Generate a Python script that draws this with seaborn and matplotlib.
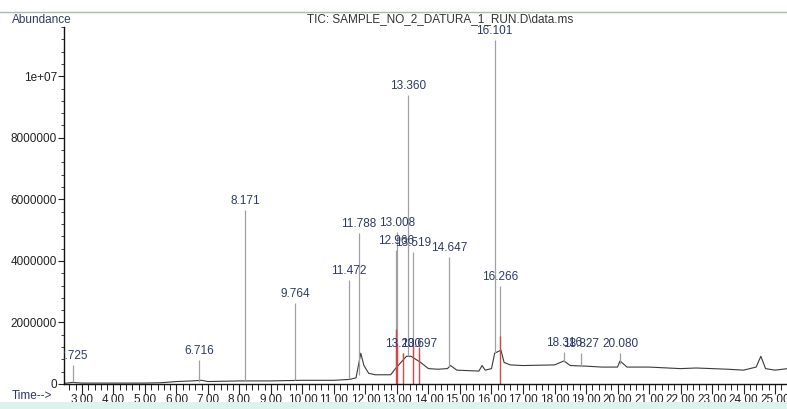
import numpy as np
import pandas as pd
import seaborn as sns
import matplotlib.pyplot as plt
from matplotlib.ticker import MultipleLocator

# ---------------- data ----------------
# baseline trace (time in min, abundance)
trace_t = [2.43, 2.70, 3.00, 4.00, 5.00, 5.50, 6.00, 6.50, 6.80, 7.00, 8.00, 9.00,
           10.00, 11.00, 11.50, 11.70, 11.85, 11.95, 12.10, 12.30, 12.80, 12.95,
           13.30, 13.45, 13.75, 14.00, 14.30, 14.60, 14.70, 14.90, 15.60, 15.70,
           15.80, 16.00, 16.10, 16.30, 16.40, 16.60, 17.00, 18.00, 18.30, 18.50,
           19.00, 19.50, 20.00, 20.08, 20.30, 21.00, 22.00, 22.50, 23.00, 23.50,
           24.00, 24.40, 24.55, 24.70, 25.00, 25.40]
trace_y = [20000, 50000, 30000, 30000, 30000, 40000, 80000, 100000, 120000, 80000,
           100000, 100000, 120000, 120000, 150000, 200000, 1000000, 600000, 350000,
           300000, 300000, 500000, 900000, 900000, 700000, 500000, 480000, 500000,
           600000, 450000, 420000, 600000, 450000, 500000, 1000000, 1100000, 700000,
           620000, 600000, 620000, 750000, 600000, 580000, 550000, 550000, 750000,
           550000, 550000, 500000, 520000, 500000, 480000, 450000, 550000, 900000,
           500000, 450000, 500000]

# labelled peaks
peak_t = [2.725, 6.716, 8.171, 9.764, 11.472, 11.788, 12.966, 13.008, 13.200,
          13.360, 13.519, 13.697, 14.647, 16.101, 16.266, 18.316, 18.827, 20.080]
peak_h = [620000, 780000, 5660000, 2630000, 3380000, 4910000, 4360000, 4940000,
          1000000, 9400000, 4290000, 1000000, 4130000, 11190000, 3200000,
          1050000, 1000000, 1000000]
peak_base = [50000, 80000, 100000, 120000, 150000, 300000, 400000, 450000, 800000,
             900000, 900000, 700000, 550000, 1000000, 1100000, 700000, 600000, 650000]
peak_lbl = ['2.725', '6.716', '8.171', '9.764', '11.472', '11.788', '12.966',
            '13.008', '13.200', '13.360', '13.519', '13.697', '14.647', '16.101',
            '16.266', '18.316', '18.827', '20.080']

# red integration marks
red_t = [12.966, 13.008, 13.200, 13.519, 13.697, 16.266]
red_top = [1800000, 1300000, 1000000, 1300000, 1200000, 1550000]

yticks = [0, 2000000, 4000000, 6000000, 8000000, 10000000]
ytick_lbl = ['0', '2000000', '4000000', '6000000', '8000000', '1e+07']
xticks = list(range(3, 26))
xtick_lbl = ['%d.00' % v for v in xticks]

# ---------------- plot ----------------
sns.set_style('white')
plt.rcParams['font.family'] = ['Liberation Sans Narrow', 'Liberation Sans', 'DejaVu Sans']

fig = plt.figure(figsize=(7.87, 4.09), dpi=100)
ax = fig.add_axes([64 / 787, 25 / 409, 1 - 64 / 787, 357 / 409])

trace = pd.DataFrame({'t': trace_t, 'y': trace_y})
sns.lineplot(data=trace, x='t', y='y', ax=ax, color='#3a3a3a', lw=0.8, sort=False)

ax.vlines(peak_t, peak_base, peak_h, color='#a0a0a0', lw=0.9)
ax.vlines(red_t, 0, red_top, color='#d04848', lw=1.0)

lbl_col = '#2e3a66'
for i, (t, h, s) in enumerate(zip(peak_t, peak_h, peak_lbl)):
    # the first label runs under the y axis and is cut there, as in the original
    ax.text(t, h + 90000, s, ha='center', va='bottom', fontsize=8.5,
            color=lbl_col, clip_on=(i == 0))

ax.set_xlim(2.43, 25.38)
ax.set_ylim(0, 11.6e6)
ax.set_xlabel('')
ax.set_ylabel('')

ax.set_xticks(xticks)
ax.set_xticklabels(xtick_lbl)
ax.xaxis.set_minor_locator(MultipleLocator(0.2))
ax.set_yticks(yticks)
ax.set_yticklabels(ytick_lbl)
ax.yaxis.set_minor_locator(MultipleLocator(400000))

ax.tick_params(axis='x', which='major', direction='out', length=7, width=0.8,
               labelsize=8.5, pad=0, colors='#222222')
ax.tick_params(axis='x', which='minor', direction='out', length=4, width=0.7,
               colors='#222222')
ax.tick_params(axis='y', which='major', direction='out', length=4, width=0.8,
               labelsize=8.5, pad=1, colors='#222222')
ax.tick_params(axis='y', which='minor', direction='out', length=2, width=0.7,
               colors='#444444')
ax.tick_params(bottom=True, left=True, which='both')

for side in ['top', 'right']:
    ax.spines[side].set_visible(False)
for side in ['left', 'bottom']:
    ax.spines[side].set_color('#111111')
    ax.spines[side].set_linewidth(1.0)

# frame decorations and header texts
fig.add_artist(plt.Line2D([0, 1], [1 - 12 / 409, 1 - 12 / 409], color='#a9bba9', lw=1.0))
fig.add_artist(plt.Rectangle((0, 0), 1, 7 / 409, color='#dff1ec', lw=0))
fig.text(12 / 787, 1 - 20 / 409, 'Abundance', fontsize=8.5, color=lbl_col,
         va='center', ha='left')
fig.text(440 / 787, 1 - 19 / 409, 'TIC: SAMPLE_NO_2_DATURA_1_RUN.D\\data.ms',
         fontsize=8.5, color='#333333', va='center', ha='center')
fig.text(12 / 787, 1 - 396 / 409, 'Time-->', fontsize=8.5, color=lbl_col,
         va='center', ha='left')

fig.savefig('out.png', dpi=100)
